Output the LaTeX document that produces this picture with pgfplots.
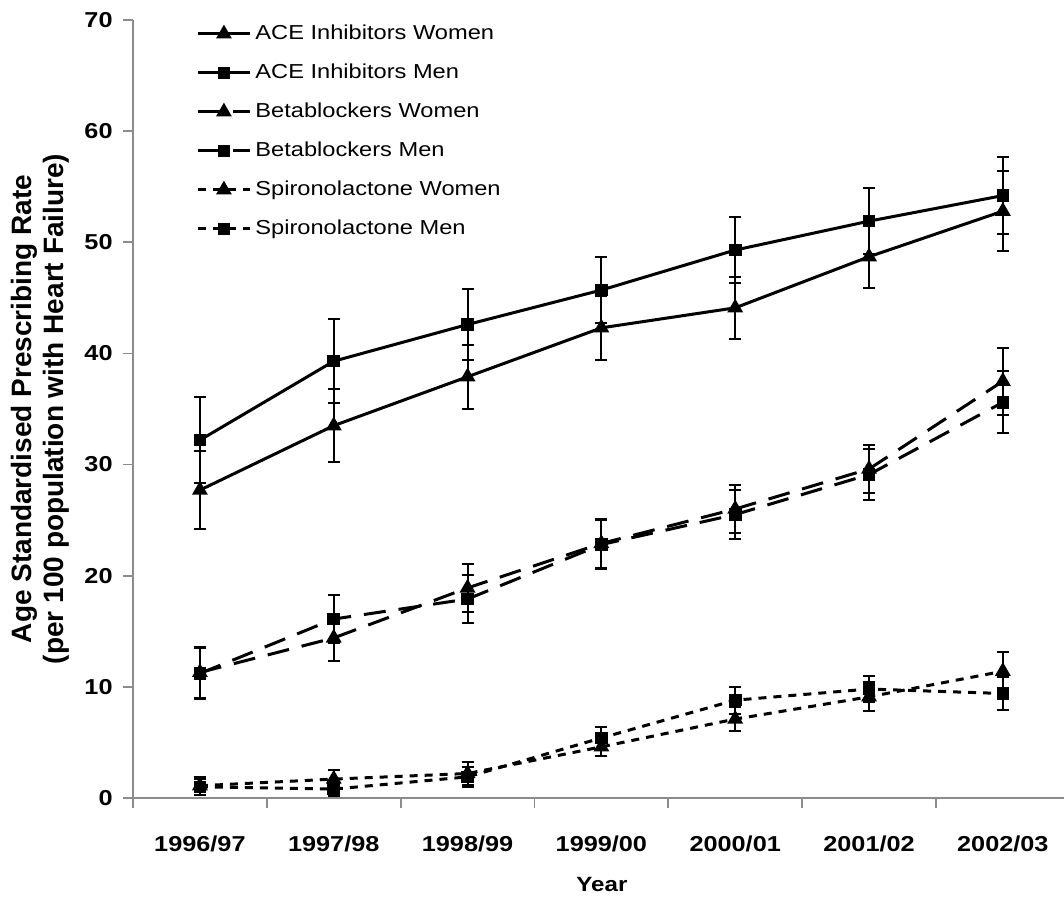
\documentclass[border=0pt]{standalone}
\usepackage{fontspec}
\setmainfont{Liberation Sans}[FakeStretch=1.17]
\newfontfamily\ylabfont{Liberation Sans}
\usepackage{pgfplots}
\pgfplotsset{compat=1.18}

\definecolor{axisgray}{HTML}{8C8C8C}

\begin{document}
\begin{tikzpicture}
\begin{axis}[
  name=ax,
  scale only axis,
  width=465.5bp, height=389bp,
  xmin=-0.5, xmax=6.457,
  ymin=0, ymax=70,
  axis x line*=bottom, axis y line*=left,
  axis line style={axisgray, line width=0.9bp},
  tick align=outside,
  xtick={0,1,2,3,4,5,6},
  xticklabels={1996/97,1997/98,1998/99,1999/00,2000/01,2001/02,2002/03},
  minor xtick={-0.5,0.5,1.5,2.5,3.5,4.5,5.5},
  major x tick style={draw=none},
  minor x tick style={axisgray, line width=0.9bp},
  minor tick length=5bp,
  ytick={0,10,...,70},
  y tick style={axisgray, line width=0.9bp},
  major tick length=5bp,
  /pgf/number format/assume math mode=true,
  xticklabel style={font=\fontsize{10.8bp}{13bp}\selectfont\bfseries, anchor=base, yshift=-22bp},
  yticklabel style={font=\fontsize{10.8bp}{13bp}\selectfont\bfseries, anchor=east, inner sep=0pt, xshift=-5bp},
  xlabel={Year},
  xlabel style={font=\fontsize{10.3bp}{12bp}\selectfont\bfseries, at={(axis description cs:0.5037,-0.1208)}, anchor=base},
  ylabel={Age Standardised Prescribing Rate\\(per 100 population with Heart Failure)},
  ylabel style={font=\ylabfont\fontsize{14bp}{16bp}\selectfont\bfseries, align=center,
    at={(axis description cs:-0.0999,0.5)}, anchor=center},
  legend cell align=left,
  legend style={at={(rel axis cs:0.0677,0.9955)}, anchor=north west, draw=none, fill=none,
    inner sep=0pt, row sep=9.5bp, column sep=2bp,
    font=\fontsize{10.1bp}{12bp}\selectfont,
    nodes={inner sep=0pt, text height=8bp, text depth=2bp}},
  legend image code/.code={\draw[mark repeat=2, mark phase=2, #1]
    plot coordinates {(0bp,0bp) (13bp,0bp) (26bp,0bp)};},
  every axis plot/.append style={black, line width=1.5bp},
  error bars/y dir=both, error bars/y explicit,
  error bars/error mark=|,
  error bars/error bar style={black, line width=1bp, solid},
  error bars/error mark options={black, line width=1bp, mark size=3bp, solid},
]

% ACE inhibitors
\addplot[solid, mark=triangle*, mark size=3.1bp, mark options={solid}]
  coordinates {(0,27.7) +- (0,3.5) (1,33.5) +- (0,3.3) (2,37.9) +- (0,2.9)
    (3,42.3) +- (0,2.9) (4,44.1) +- (0,2.8) (5,48.7) +- (0,2.8) (6,52.8) +- (0,3.6)};
\addlegendentry{ACE Inhibitors Women}
\addplot[solid, mark=square*, mark size=2.4bp, mark options={solid}]
  coordinates {(0,32.2) +- (0,3.9) (1,39.3) +- (0,3.8) (2,42.6) +- (0,3.2)
    (3,45.7) +- (0,3.0) (4,49.3) +- (0,3.0) (5,51.9) +- (0,3.0) (6,54.2) +- (0,3.5)};
\addlegendentry{ACE Inhibitors Men}

% Betablockers
\addplot[dash pattern=on 11bp off 6.5bp, mark=triangle*, mark size=3.1bp, mark options={solid}]
  coordinates {(0,11.3) +- (0,2.3) (1,14.4) +- (0,2.1) (2,18.9) +- (0,2.15)
    (3,22.9) +- (0,2.2) (4,26.0) +- (0,2.2) (5,29.6) +- (0,2.2) (6,37.5) +- (0,3.0)};
\addlegendentry{Betablockers Women}
\addplot[dash pattern=on 11bp off 6.5bp, mark=square*, mark size=2.4bp, mark options={solid}]
  coordinates {(0,11.2) +- (0,2.3) (1,16.1) +- (0,2.2) (2,17.9) +- (0,2.2)
    (3,22.8) +- (0,2.2) (4,25.5) +- (0,2.2) (5,29.1) +- (0,2.3) (6,35.6) +- (0,2.8)};
\addlegendentry{Betablockers Men}

% Spironolactone
\addplot[dash pattern=on 4bp off 3.5bp, mark=triangle*, mark size=3.1bp, mark options={solid}]
  coordinates {(0,1.1) +- (0,0.8) (1,1.7) +- (0,0.8) (2,2.2) +- (0,1.0)
    (3,4.6) +- (0,0.8) (4,7.1) +- (0,1.1) (5,9.1) +- (0,1.3) (6,11.4) +- (0,1.7)};
\addlegendentry{Spironolactone Women}
\addplot[dash pattern=on 4bp off 3.5bp, mark=square*, mark size=2.4bp, mark options={solid}]
  coordinates {(0,1.0) +- (0,0.7) (1,0.8) +- (0,0.6) (2,1.9) +- (0,0.9)
    (3,5.4) +- (0,1.0) (4,8.8) +- (0,1.2) (5,9.8) +- (0,1.2) (6,9.4) +- (0,1.5)};
\addlegendentry{Spironolactone Men}
\end{axis}
\pgfresetboundingbox
\path[use as bounding box] ([xshift=-66.5bp, yshift=-49.5bp]ax.south west)
  rectangle ([yshift=10bp]ax.north east);
\end{tikzpicture}
\end{document}
